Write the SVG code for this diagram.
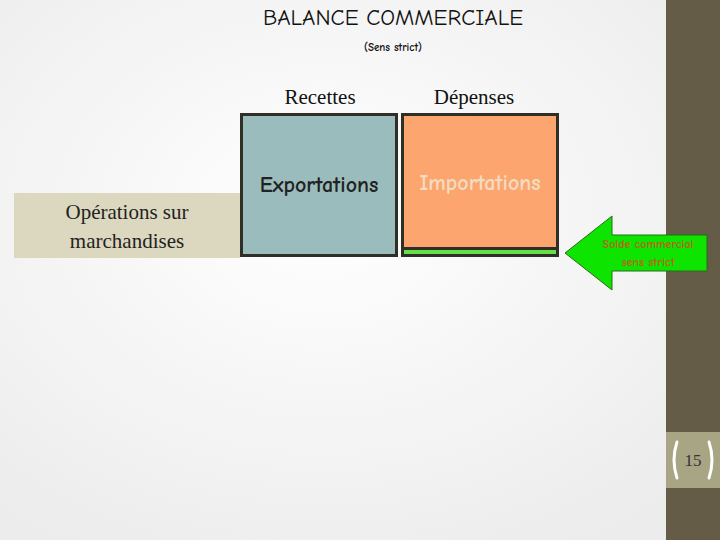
<svg xmlns="http://www.w3.org/2000/svg" width="720" height="540" viewBox="0 0 720 540">
<defs>
<radialGradient id="bg" cx="0.45" cy="0.4" r="0.7"><stop offset="0" stop-color="#ffffff"/><stop offset="1" stop-color="#ececec"/></radialGradient>
<style>
.cs{font-family:"Comic Neue","DejaVu Sans",sans-serif;font-weight:bold}
.sr{font-family:"Liberation Serif",serif}
</style>
</defs>
<rect width="720" height="540" fill="url(#bg)"/>
<rect x="666" y="0" width="54" height="540" fill="#655c47"/>
<rect x="666" y="432" width="54" height="56" fill="#a8a585"/>
<path d="M677 442 Q671 460 677 478 M709 442 Q715 460 709 478" fill="none" stroke="#fff" stroke-width="3" stroke-linecap="round"/>
<text x="693" y="466" class="sr" font-size="17" fill="#333" text-anchor="middle">15</text>
<text x="393" y="25" class="cs" font-size="23" fill="#111" text-anchor="middle" style="font-weight:normal">BALANCE COMMERCIALE</text>
<text x="393" y="51" class="cs" font-size="11" fill="#111" text-anchor="middle">(Sens strict)</text>
<text x="320" y="104" class="sr" font-size="21" fill="#111" text-anchor="middle">Recettes</text>
<text x="474" y="104" class="sr" font-size="21" fill="#111" text-anchor="middle">Dépenses</text>
<g id="operations">
<rect x="14" y="193" width="226" height="65" fill="#dcd8c0"/>
<text x="127" y="219" class="sr" font-size="21" fill="#222" text-anchor="middle">Opérations sur</text>
<text x="127" y="248" class="sr" font-size="21" fill="#222" text-anchor="middle">marchandises</text>
</g>
<g id="exportations">
<rect x="241.5" y="114.5" width="155" height="141" fill="#9bbcbc" stroke="#2f2f25" stroke-width="3"/>
<text x="319" y="192" class="cs" font-size="22" fill="#222" text-anchor="middle">Exportations</text>
</g>
<g id="importations">
<rect x="402.5" y="114.5" width="155" height="141" fill="#fca56e" stroke="#2f2f25" stroke-width="3"/>
<rect x="404" y="247" width="152" height="3" fill="#2f2f25"/>
<rect x="404" y="250" width="152" height="4" fill="#66e04a"/>
<text x="480" y="190" class="cs" font-size="22" fill="#f3dcc0" text-anchor="middle">Importations</text>
</g>
<g id="connectors">
<g id="solde">
<polygon points="565,253 612,216 612,235 707,235 707,271 612,271 612,290" fill="#0de500" stroke="#2a6a1a" stroke-width="1"/>
<text x="648" y="248" class="cs" font-size="12" fill="#b5651d" text-anchor="middle">Solde commercial</text>
<text x="648" y="266" class="cs" font-size="12" fill="#b5651d" text-anchor="middle">sens strict</text>
</g>
</g>
</svg>
